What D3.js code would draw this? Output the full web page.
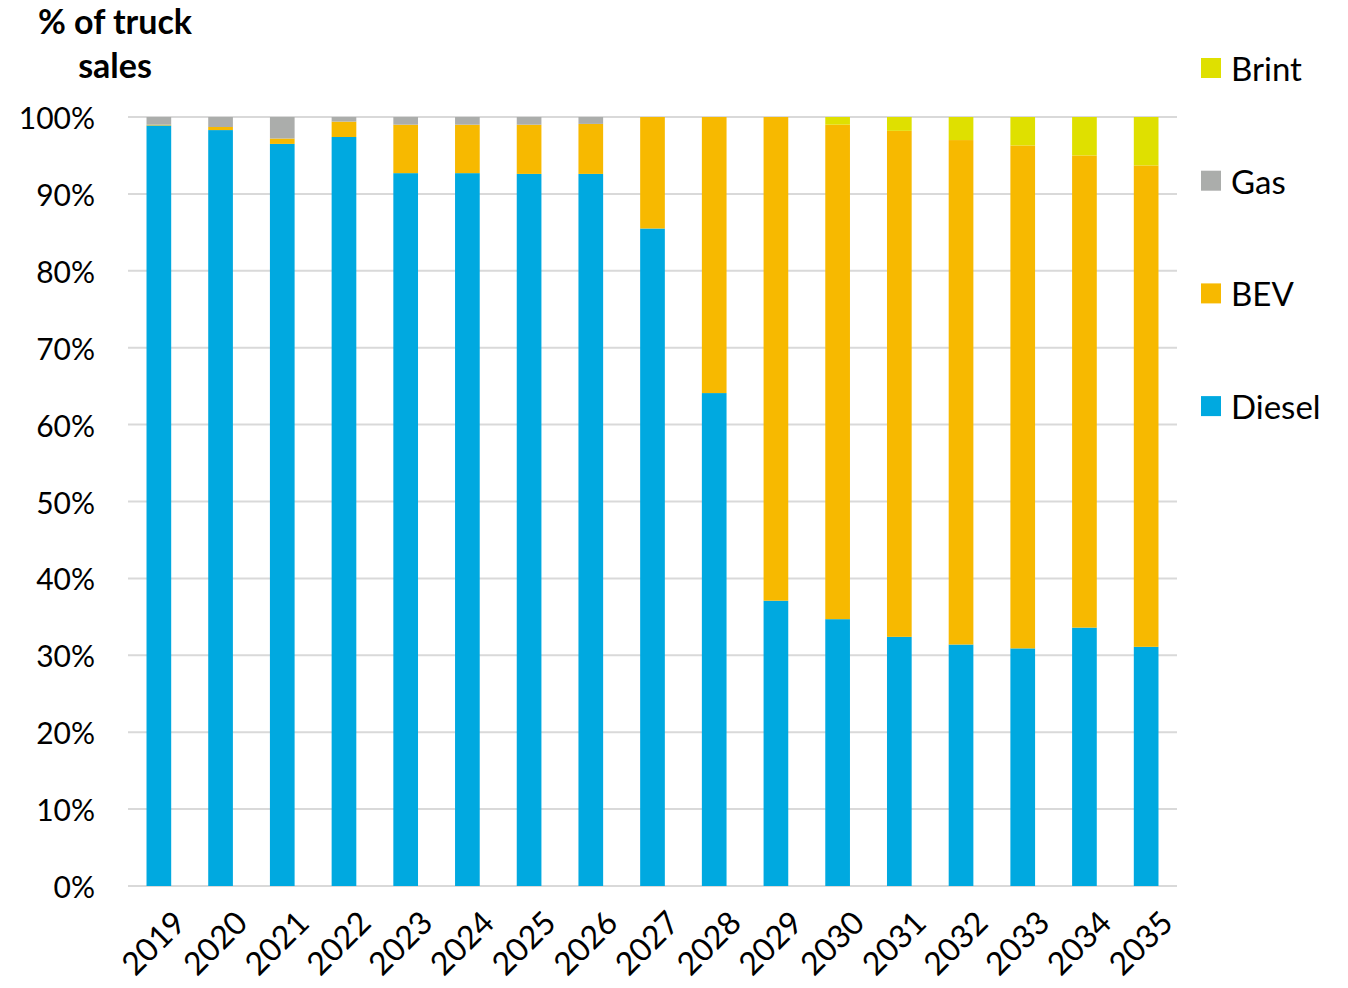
<!DOCTYPE html>
<html lang="en">
<head>
<meta charset="UTF-8">
<title>Truck sales</title>
<style>
  * { margin: 0; padding: 0; }
  body { background: #fff; }
  text { font-family: Lato, "Open Sans", sans-serif; fill: #000; }
</style>
</head>
<body>
<svg></svg>
<script src="https://cdn.jsdelivr.net/npm/d3@7"></script>
<script>
  // data (% of truck sales)
  const years = ['2019', '2020', '2021', '2022', '2023', '2024', '2025', '2026', '2027',
    '2028', '2029', '2030', '2031', '2032', '2033', '2034', '2035']
  const diesel = [98.9, 98.3, 96.5, 97.4, 92.7, 92.7, 92.6, 92.6, 85.5, 64.1, 37.1, 34.7, 32.4, 31.4, 30.9, 33.6, 31.1]
  const bev    = [0.1, 0.4, 0.7, 2.0, 6.3, 6.3, 6.4, 6.5, 14.5, 35.9, 62.9, 64.3, 65.8, 65.6, 65.4, 61.4, 62.6]
  const gas    = [1.0, 1.3, 2.8, 0.6, 1.0, 1.0, 1.0, 0.9, 0, 0, 0, 0, 0, 0, 0, 0, 0]
  const brint  = [0, 0, 0, 0, 0, 0, 0, 0, 0, 0, 0, 1.0, 1.8, 3.0, 3.7, 5.0, 6.3]
  const seriesNames = ['Diesel', 'BEV', 'Gas', 'Brint']
  const colors = ['#00a9e0', '#f7b900', '#abadab', '#dfe000']
  const yTicks = [0, 10, 20, 30, 40, 50, 60, 70, 80, 90, 100]

  const W = 1348, H = 988
  const svg = d3.select('svg').attr('width', W).attr('height', H)

  const rows = years.map((y, i) => ({
    year: y, Diesel: diesel[i], BEV: bev[i], Gas: gas[i], Brint: brint[i]
  }))
  const stacked = d3.stack().keys(seriesNames)(rows)

  const x = d3.scaleBand().domain(years).range([128, 1177]).paddingInner(0.6).paddingOuter(0.3)
  const y = d3.scaleLinear().domain([0, 100]).range([886, 117])

  // grid lines
  svg.append('g').selectAll('line').data(yTicks).join('line')
    .attr('x1', 128).attr('x2', 1177)
    .attr('y1', d => y(d)).attr('y2', d => y(d))
    .attr('stroke', '#d9d9d9').attr('stroke-width', 2)

  // y labels
  svg.append('g').selectAll('text').data(yTicks).join('text')
    .attr('x', 95).attr('y', d => y(d))
    .attr('text-anchor', 'end').attr('dominant-baseline', 'central')
    .attr('font-size', 30)
    .text(d => d + '%')

  // bars
  svg.append('g').selectAll('g').data(stacked).join('g')
    .attr('fill', (d, i) => colors[i])
    .selectAll('rect').data(d => d).join('rect')
    .attr('x', d => x(d.data.year))
    .attr('width', x.bandwidth())
    .attr('y', d => y(d[1]))
    .attr('height', d => y(d[0]) - y(d[1]))

  // x labels, rotated
  svg.append('g').selectAll('text').data(years).join('text')
    .attr('transform', d => `translate(${x(d) + x.bandwidth() / 2 + 20},${916}) rotate(-45)`)
    .attr('text-anchor', 'end').attr('dominant-baseline', 'central')
    .attr('font-size', 32)
    .text(d => d)

  // title
  const title = svg.append('text').attr('text-anchor', 'middle')
    .attr('font-size', 34).attr('font-weight', 'bold')
  title.append('tspan').attr('x', 115).attr('y', 34).text('% of truck')
  title.append('tspan').attr('x', 115).attr('y', 78).text('sales')

  // legend (top to bottom: Brint, Gas, BEV, Diesel)
  const legendItems = seriesNames.map((n, i) => ({ name: n, color: colors[i] })).reverse()
  const lg = svg.append('g').selectAll('g').data(legendItems).join('g')
    .attr('transform', (d, i) => `translate(1201,${68 + i * 112.7})`)
  lg.append('rect').attr('x', 0).attr('y', -10).attr('width', 20).attr('height', 20)
    .attr('fill', d => d.color)
  lg.append('text').attr('x', 30).attr('y', 0).attr('dominant-baseline', 'central')
    .attr('font-size', 33).text(d => d.name)
</script>
</body>
</html>
